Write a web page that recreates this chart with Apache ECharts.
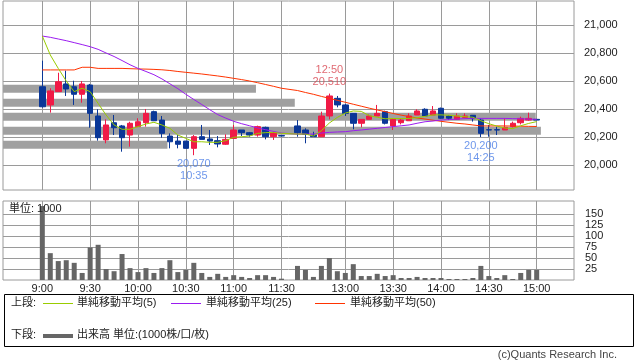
<!DOCTYPE html>
<html><head><meta charset="utf-8">
<script src="https://cdn.jsdelivr.net/npm/echarts@6/dist/echarts.min.js"></script>
<style>html,body{margin:0;padding:0;background:#fff}#c{width:638px;height:362px}</style>
</head><body><div id="c"></div><script>
// ---- data (slot index = 5-minute bar; slot 31 is the lunch gap) ----
const tickSlots  = [0, 6, 12, 18, 24, 30, 38, 44, 50, 56, 62];
const tickLabels = ['9:00','9:30','10:00','10:30','11:00','11:30','13:00','13:30','14:00','14:30','15:00'];
const priceTicks = [20000, 20200, 20400, 20600, 20800, 21000];
const volumeTicks = [25, 50, 75, 100, 125, 150];

const openP  = [20559,20429,20524,20579,20559,20505,20571,20350,20179,20302,20279,20214,20274,20302,20381,20321,20207,20171,20171,20119,20202,20186,20174,20148,20190,20250,20231,20214,20269,20202,20210,null,
                20279,20250,20214,20202,20350,20476,20429,20369,20298,20326,20350,20381,20279,20302,20316,20357,20398,20357,20405,20350,20326,20340,20355,20321,20252,20252,20250,20274,20302,20321,20326];
const closeP = [20416,20529,20595,20543,20505,20579,20369,20195,20286,20266,20195,20298,20309,20369,20316,20226,20166,20148,20119,20202,20183,20171,20150,20183,20250,20231,20214,20274,20202,20231,20207,null,
                20231,20219,20202,20350,20493,20429,20369,20298,20326,20350,20369,20298,20326,20321,20350,20386,20350,20386,20334,20334,20350,20350,20331,20226,20250,20250,20269,20298,20333,20333,20321];
const lowP   = [20410,20374,20524,20493,20429,20445,20266,20174,20155,20214,20095,20131,20274,20274,20316,20195,20119,20119,20119,20070,20183,20143,20126,20143,20190,20207,20202,20202,20183,20179,20205,null,
                20202,20155,20202,20202,20326,20412,20350,20255,20269,20326,20350,20290,20250,20290,20316,20357,20343,20357,20330,20321,20326,20335,20310,20200,20202,20214,20250,20269,20290,20316,20321];
const highP  = [20745,20548,20659,20674,20602,20600,20579,20398,20326,20357,20286,20309,20334,20400,20388,20350,20226,20214,20171,20214,20286,20250,20207,20219,20286,20250,20236,20281,20274,20238,20214,null,
                20321,20262,20238,20381,20510,20493,20436,20369,20326,20360,20429,20388,20335,20335,20369,20398,20405,20421,20410,20357,20369,20369,20357,20333,20286,20274,20333,20310,20345,20374,20326];
const volume = [168,61,43,45,39,16,74,80,25,20,59,27,18,27,16,27,45,18,23,39,16,7,14,7,11,7,4.5,11,11,7,3,null,
                32,23,7,32,50,20,16,36,9,9,14,9,11,4.5,4.5,7,4.5,4.5,4.5,2.3,2.3,2.3,4.5,32,9,4.5,11,2.3,16,23,23];
const sma5  = [20921,20786,20690,20600,20524,20548,20524,20440,20357,20286,20255,20255,20274,20293,20305,20286,20262,20214,20190,20166,20166,20162,20162,20174,20198,20202,20207,20226,20231,20233,20226,null,
               20221,20221,20207,20245,20300,20340,20371,20386,20383,20352,20341,20330,20332,20332,20333,20338,20347,20358,20358,20355,20350,20345,20341,20316,20295,20278,20264,20260,20280,20297,20310];
const sma25 = [20921,20912,20900,20888,20874,20860,20845,20826,20800,20775,20746,20716,20690,20668,20645,20615,20580,20545,20505,20468,20432,20395,20360,20335,20312,20295,20280,20265,20252,20240,20228,null,
               20221,20221,20221,20228,20233,20236,20238,20245,20250,20256,20262,20268,20274,20280,20286,20298,20309,20314,20321,20324,20328,20331,20333,20333,20333,20333,20333,20331,20330,20328,20326];
const sma50 = [20679,20679,20679,20679,20679,20698,20698,20690,20690,20690,20690,20688,20686,20685,20683,20680,20675,20668,20662,20656,20650,20643,20636,20628,20619,20610,20600,20588,20575,20562,20548,null,
               20532,20518,20505,20490,20476,20462,20448,20434,20420,20406,20393,20381,20368,20356,20346,20336,20328,20320,20312,20305,20298,20293,20286,20279,20279,20279,20279,20278,20277,20276,20275];
// price-band volume (share of plot width, %)
const bandPrices = [20145, 20245, 20345, 20445, 20545];
const bandVolume = [28.8, 94.2, 93.3, 51.1, 44.3];
// extremes annotations
const extremeSlots  = [36, 19, 55];
const extremePrices = [20510, 20070, 20200];
const extremeTimes  = ['12:50', '10:35', '14:25'];
const extremeKinds  = ['high', 'low', 'low'];

// ---- build ----
const idx = (arr) => arr.map((v, i) => v == null ? null : [i, v]).filter(d => d);
const candleData = [];
openP.forEach((o, i) => { if (o != null) candleData.push([i, o, closeP[i], lowP[i], highP[i]]); });
const fmt = v => Math.round(v).toLocaleString('en-US');
const FONT = "'Liberation Sans', 'Noto Sans CJK JP', sans-serif";
const GRID = '#9a9a9a';
const X_MIN = -4.93, X_MAX = 66.68;

const chart = echarts.init(document.getElementById('c'), null, {renderer: 'canvas'});
const xCommon = {type: 'value', min: X_MIN, max: X_MAX, axisLine: {show: false},
  axisTick: {show: false, customValues: tickSlots},
  splitLine: {show: true, lineStyle: {color: GRID, width: 1}}};
const option = {
  animation: false,
  backgroundColor: '#fff',
  textStyle: {fontFamily: FONT},
  grid: [
    {left: 3, top: 1, width: 571, height: 189, show: true, borderColor: GRID, borderWidth: 1, backgroundColor: 'transparent'},
    {left: 3, top: 201, width: 571, height: 79, show: true, borderColor: GRID, borderWidth: 1, backgroundColor: 'transparent'}
  ],
  xAxis: [
    Object.assign({gridIndex: 0, axisLabel: {show: false, customValues: tickSlots}}, xCommon),
    Object.assign({gridIndex: 1, axisLabel: {show: true, customValues: tickSlots, margin: 3, fontSize: 11, color: '#222', fontFamily: FONT,
      formatter: v => tickLabels[tickSlots.indexOf(Math.round(v))] || ''}}, xCommon),
    {gridIndex: 0, type: 'value', min: 0, max: 100, show: false}
  ],
  yAxis: [
    {gridIndex: 0, type: 'value', position: 'right', min: 19821.4, max: 21171.4, scale: true,
     axisLine: {show: false},
     axisTick: {show: true, length: 4, customValues: priceTicks, lineStyle: {color: GRID}},
     axisLabel: {customValues: priceTicks, margin: 10, fontSize: 11, color: '#222', fontFamily: FONT, formatter: fmt},
     splitLine: {show: true, lineStyle: {color: GRID, width: 1}}},
    {gridIndex: 1, type: 'value', position: 'right', min: 0, max: 179.5,
     axisLine: {show: false},
     axisTick: {show: true, length: 4, customValues: volumeTicks, lineStyle: {color: GRID}},
     axisLabel: {customValues: volumeTicks, margin: 11, fontSize: 11, color: '#222', fontFamily: FONT},
     splitLine: {show: true, lineStyle: {color: GRID, width: 1}}}
  ],
  series: [
    {type: 'custom', xAxisIndex: 2, yAxisIndex: 0, z: 1, silent: true,
     data: bandPrices.map((p, i) => [bandVolume[i], p]),
     renderItem: (params, api) => {
       const a = api.coord([0, api.value(1)]);
       const b = api.coord([api.value(0), api.value(1)]);
       return {type: 'rect', shape: {x: a[0], y: a[1] - 4, width: b[0] - a[0], height: 8}, style: {fill: '#a0a0a0'}};
     }},
    {type: 'candlestick', xAxisIndex: 0, yAxisIndex: 0, z: 2, barWidth: 6,
     encode: {x: 0, y: [1, 2, 3, 4]},
     data: candleData,
     itemStyle: {color: '#f01a46', color0: '#0a3797', borderColor: '#f01a46', borderColor0: '#0a3797', borderWidth: 1}},
    {type: 'line', xAxisIndex: 0, yAxisIndex: 0, z: 3, data: idx(sma50), showSymbol: false, symbol: 'none',
     lineStyle: {color: '#ff3300', width: 1}},
    {type: 'line', xAxisIndex: 0, yAxisIndex: 0, z: 3, data: idx(sma25), showSymbol: false, symbol: 'none',
     lineStyle: {color: '#9b1cf0', width: 1}},
    {type: 'line', xAxisIndex: 0, yAxisIndex: 0, z: 4, data: idx(sma5), showSymbol: false, symbol: 'none',
     lineStyle: {color: '#99cc00', width: 1}},
    {type: 'scatter', xAxisIndex: 0, yAxisIndex: 0, z: 5, symbolSize: 0, silent: true,
     data: extremeSlots.map((s, i) => ({value: [s, extremePrices[i]],
       label: extremeKinds[i] === 'high'
        ? {show: true, position: 'top', distance: 6, color: '#d8434f', formatter: extremeTimes[i] + '\n' + fmt(extremePrices[i])}
        : {show: true, position: 'bottom', distance: 3, color: '#4a7de6', formatter: fmt(extremePrices[i]) + '\n' + extremeTimes[i]}})),
     label: {fontSize: 11, lineHeight: 12, fontFamily: FONT, align: 'center'}},
    {type: 'bar', xAxisIndex: 1, yAxisIndex: 1, barWidth: 5, data: idx(volume), itemStyle: {color: '#666666'}}
  ],
  graphic: [
    {type: 'text', left: 9, top: 203, z: 10, style: {text: '単位: 1000', fontSize: 11, fill: '#222', fontFamily: FONT}},
    {type: 'rect', z: 10, shape: {x: 4.5, y: 294.5, width: 629, height: 52}, style: {fill: 'none', stroke: '#000', lineWidth: 1}},
    {type: 'text', left: 11, top: 297, z: 10, style: {text: '上段:', fontSize: 11, fill: '#222', fontFamily: FONT}},
    {type: 'line', z: 10, shape: {x1: 43, y1: 303.5, x2: 73, y2: 303.5}, style: {stroke: '#99cc00', lineWidth: 1}},
    {type: 'text', left: 77, top: 297, z: 10, style: {text: '単純移動平均(5)', fontSize: 11, fill: '#222', fontFamily: FONT}},
    {type: 'line', z: 10, shape: {x1: 171, y1: 303.5, x2: 201, y2: 303.5}, style: {stroke: '#9b1cf0', lineWidth: 1}},
    {type: 'text', left: 206, top: 297, z: 10, style: {text: '単純移動平均(25)', fontSize: 11, fill: '#222', fontFamily: FONT}},
    {type: 'line', z: 10, shape: {x1: 315, y1: 303.5, x2: 345, y2: 303.5}, style: {stroke: '#ff3300', lineWidth: 1}},
    {type: 'text', left: 350, top: 297, z: 10, style: {text: '単純移動平均(50)', fontSize: 11, fill: '#222', fontFamily: FONT}},
    {type: 'text', left: 11, top: 329, z: 10, style: {text: '下段:', fontSize: 11, fill: '#222', fontFamily: FONT}},
    {type: 'line', z: 10, shape: {x1: 43, y1: 336, x2: 73, y2: 336}, style: {stroke: '#666666', lineWidth: 4}},
    {type: 'text', left: 77, top: 329, z: 10, style: {text: '出来高 単位:(1000株/口/枚)', fontSize: 11, fill: '#222', fontFamily: FONT}},
    {type: 'text', right: 21, top: 349, z: 10, style: {text: '(c)Quants Research Inc.', fontSize: 11, fill: '#444', fontFamily: FONT}}
  ]
};
chart.setOption(option);
</script></body></html>
